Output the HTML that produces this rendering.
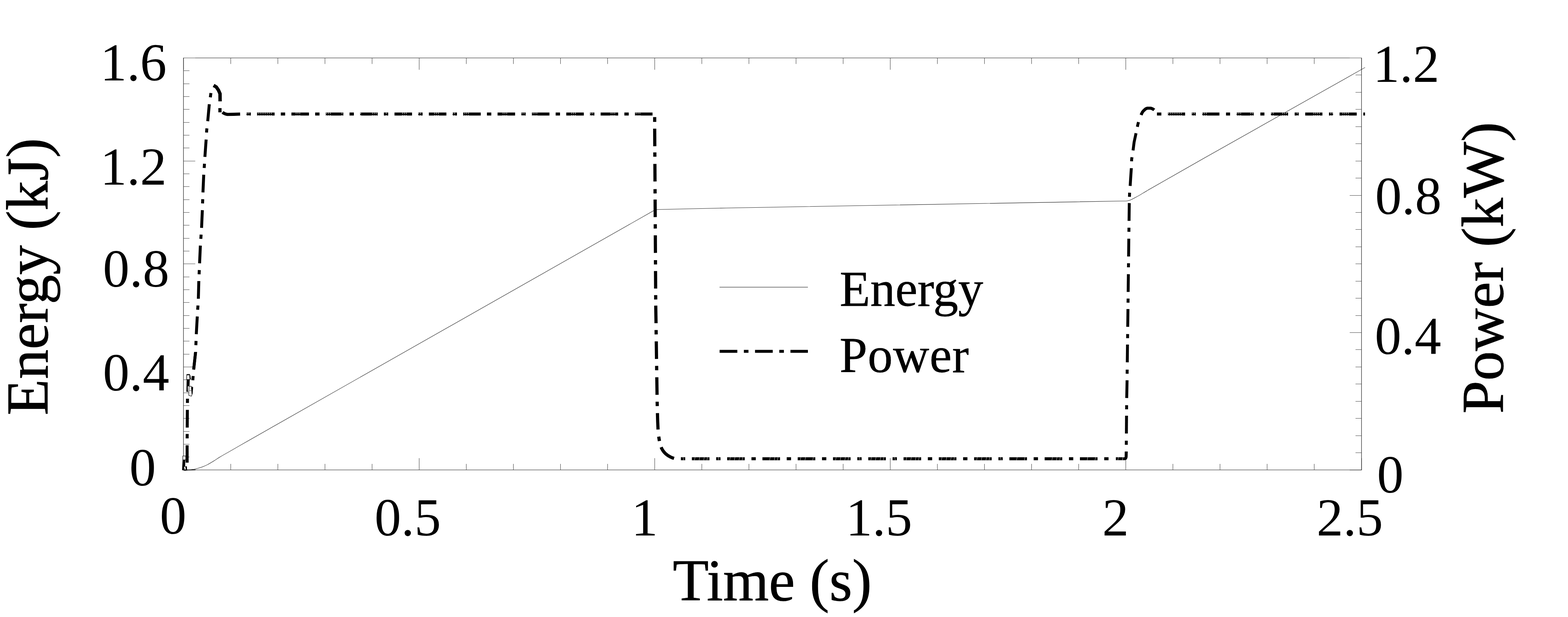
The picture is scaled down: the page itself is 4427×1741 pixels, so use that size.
<!DOCTYPE html>
<html><head><meta charset="utf-8"><title>Energy and Power vs Time</title>
<style>html,body{margin:0;padding:0;background:#fff;}svg{display:block;}text{font-family:"Liberation Serif",serif;fill:#000;}</style>
</head><body>
<svg width="4427" height="1741" viewBox="0 0 4427 1741">
<rect x="0" y="0" width="4427" height="1741" fill="#fff"/>
<g stroke="#000" stroke-width="1.2" fill="none">
<line x1="518.0" y1="163.0" x2="518.0" y2="1326.6"/>
<line x1="3844.0" y1="163.0" x2="3844.0" y2="1326.6"/>
<line x1="517.4" y1="1326.0" x2="3844.6" y2="1326.0"/>
</g>
<line x1="517.4" y1="163.5" x2="3844.6" y2="163.5" stroke="#000" stroke-width="1.1"/>
<path d="M518.0 1326.50h33.3M518.0 1289.50h16.9M518.0 1253.50h16.9M518.0 1217.50h16.9M518.0 1180.50h16.9M518.0 1144.50h16.9M518.0 1108.50h16.9M518.0 1071.50h16.9M518.0 1035.50h33.3M518.0 999.50h16.9M518.0 962.50h16.9M518.0 926.50h16.9M518.0 890.50h16.9M518.0 853.50h16.9M518.0 817.50h16.9M518.0 781.50h16.9M518.0 744.50h33.3M518.0 708.50h16.9M518.0 672.50h16.9M518.0 635.50h16.9M518.0 599.50h16.9M518.0 563.50h16.9M518.0 526.50h16.9M518.0 490.50h16.9M518.0 454.50h33.3M518.0 417.50h16.9M518.0 381.50h16.9M518.0 345.50h16.9M518.0 308.50h16.9M518.0 272.50h16.9M518.0 236.50h16.9M518.0 199.50h16.9M518.0 163.50h33.3M3844.0 1326.50h-33.3M3844.0 1277.50h-16.9M3844.0 1229.50h-16.9M3844.0 1180.50h-16.9M3844.0 1132.50h-16.9M3844.0 1083.50h-16.9M3844.0 1035.50h-16.9M3844.0 986.50h-16.9M3844.0 938.50h-33.3M3844.0 890.50h-16.9M3844.0 841.50h-16.9M3844.0 793.50h-16.9M3844.0 744.50h-16.9M3844.0 696.50h-16.9M3844.0 647.50h-16.9M3844.0 599.50h-16.9M3844.0 551.50h-33.3M3844.0 502.50h-16.9M3844.0 454.50h-16.9M3844.0 405.50h-16.9M3844.0 357.50h-16.9M3844.0 308.50h-16.9M3844.0 260.50h-16.9M3844.0 211.50h-16.9M3844.0 163.50h-33.3M518.50 1326.0v-33.3M518.50 163.5v33.3M651.50 1326.0v-16.9M651.50 163.5v16.9M784.50 1326.0v-16.9M784.50 163.5v16.9M917.50 1326.0v-16.9M917.50 163.5v16.9M1050.50 1326.0v-16.9M1050.50 163.5v16.9M1183.50 1326.0v-33.3M1183.50 163.5v33.3M1316.50 1326.0v-16.9M1316.50 163.5v16.9M1449.50 1326.0v-16.9M1449.50 163.5v16.9M1582.50 1326.0v-16.9M1582.50 163.5v16.9M1715.50 1326.0v-16.9M1715.50 163.5v16.9M1848.50 1326.0v-33.3M1848.50 163.5v33.3M1981.50 1326.0v-16.9M1981.50 163.5v16.9M2114.50 1326.0v-16.9M2114.50 163.5v16.9M2247.50 1326.0v-16.9M2247.50 163.5v16.9M2380.50 1326.0v-16.9M2380.50 163.5v16.9M2513.50 1326.0v-33.3M2513.50 163.5v33.3M2646.50 1326.0v-16.9M2646.50 163.5v16.9M2779.50 1326.0v-16.9M2779.50 163.5v16.9M2912.50 1326.0v-16.9M2912.50 163.5v16.9M3045.50 1326.0v-16.9M3045.50 163.5v16.9M3178.50 1326.0v-33.3M3178.50 163.5v33.3M3311.50 1326.0v-16.9M3311.50 163.5v16.9M3444.50 1326.0v-16.9M3444.50 163.5v16.9M3577.50 1326.0v-16.9M3577.50 163.5v16.9M3710.50 1326.0v-16.9M3710.50 163.5v16.9M3844.50 1326.0v-33.3M3844.50 163.5v33.3" stroke="#333" stroke-width="1.1" fill="none"/>
<path d="M518 1325.7C521.67 1325.58 534.50 1325.38 540.00 1325.00C545.50 1324.62 547.33 1324.13 551.00 1323.40C554.67 1322.67 558.30 1321.72 562.00 1320.60C565.70 1319.48 569.23 1318.28 573.20 1316.70C577.17 1315.12 580.53 1313.88 585.80 1311.10C591.07 1308.32 599.00 1303.55 604.80 1300.00C610.60 1296.45 612.70 1294.53 620.60 1289.80C628.50 1285.07 638.97 1279.20 652.20 1271.60C665.43 1264.00 692.03 1248.77 700.00 1244.20L780 1198.7L1844 595.3L1849.5 592.4L1856 591.2L2050 587.0L3150 567.6L3170 567.3C3172.00 567.23 3178.82 567.23 3182.00 566.90C3185.18 566.57 3186.77 566.08 3189.10 565.30C3191.43 564.52 3193.70 563.30 3196.00 562.20C3198.30 561.10 3199.43 560.55 3202.90 558.70C3206.37 556.85 3211.03 554.43 3216.80 551.10C3222.57 547.77 3230.30 542.93 3237.50 538.70C3244.70 534.47 3232.92 541.15 3260.00 525.70C3287.08 510.25 3376.67 459.28 3400.00 446.00L3854 190.4" stroke="#111" stroke-width="1.05" fill="none" stroke-linejoin="round"/>
<g stroke="#000" fill="none" stroke-linecap="butt" stroke-linejoin="round">
<polygon points="515.6,1297.6 523.2,1297.6 522.8,1316 527.4,1315.6 528.4,1324.8 529,1327.6 522,1328.6 514,1326.2" fill="#000" stroke="none"/>
<rect x="516.2" y="1286.6" width="8.2" height="11.2" fill="#f4f4f4" stroke="#000" stroke-width="1.4"/>
<polygon points="519.8,1317.2 523.2,1316.8 524.4,1324.4 521.2,1324.9" fill="#fff" stroke="none"/>
<path d="M520 1326.3 L552 1325.9" stroke="#1a1a1a" stroke-width="2.3"/>
<path d="M528.3 1256.5 L528.4 1305.6" stroke-width="8.4"/>
<path d="M528.5 1224.5 L528.4 1237.0" stroke-width="8.4"/>
<path d="M529.0 1156.5 L528.6 1206.5" stroke-width="8.4"/>
<path d="M529.3 1125.0 L529.2 1137.0" stroke-width="8.4"/>
<polygon points="527.4,1056.4 535.4,1056.2 535.9,1071 527,1071" fill="#fff" stroke="#000" stroke-width="1.5"/>
<path d="M527.4 1057.4 L535.4 1057.2" stroke-width="2.6"/>
<path d="M536.2 1058.5 L538.2 1070.8" stroke-width="2.0"/>
<polygon points="527,1071 535.7,1071 535,1090 530.2,1090 530.4,1103 532,1105.6 526.3,1105.8" fill="#000" stroke="none"/>
<polygon points="533.8,1091 538.6,1089.6 544.6,1093 543,1111 540.3,1118 533,1115.6" fill="#fff" stroke="#000" stroke-width="1.3"/>
<polygon points="539.4,1092 544.8,1093.2 543.2,1110.5 541.2,1113 540.4,1102" fill="#000" stroke="none"/>
<path d="M535 1102 L540 1102" stroke-width="0.9"/>
<path d="M545.3 1061.0 L544.8 1067.0 L544.4 1073.0" stroke-width="8.3"/>
<path d="M552.2 993.5 L547.0 1041.0 L547.0 1041.5" stroke-width="8.3"/>
<path d="M575.2 493.0 L573.0 543.0" stroke-width="8.3"/>
<path d="M571.3 593.0 L569.1 643.0" stroke-width="8.3"/>
<path d="M565.7 693.0 L563.5 743.0" stroke-width="8.3"/>
<path d="M561.3 793.0 L560.0 843.0" stroke-width="8.3"/>
<path d="M557.0 893.0 L554.3 941.0 L554.2 943.0" stroke-width="8.3"/>
<path d="M552.2 993.0 L552.2 993.5 L547.0 1041.0 L546.8 1043.0" stroke-width="8.3"/>
<path d="M572.4 562.0 L571.9 574.0" stroke-width="8.3"/>
<path d="M567.8 662.0 L567.0 674.0" stroke-width="8.3"/>
<path d="M562.7 762.0 L562.1 774.0" stroke-width="8.3"/>
<path d="M558.9 862.0 L558.1 874.0" stroke-width="8.3"/>
<path d="M553.5 962.0 L553.0 974.0" stroke-width="8.3"/>
<path d="M577.3 462.0 L577.0 467.0 L576.5 474.0" stroke-width="8.3"/>
<path d="M582.0 393.8 L578.5 442.7" stroke-width="8.3"/>
<path d="M584.2 362.2 L583.5 368.0 L583.2 374.0" stroke-width="8.3"/>
<path d="M590.9 294.1 L586.5 342.0" stroke-width="8.3"/>
<path d="M595.5 262.5 L593.8 274.6" stroke-width="8.3"/>
<path d="M603.0 241.0 L610.5 245.3 L616.8 254.5 L621.2 264.5 L621.4 286" stroke-width="9.6"/>
<path d="M621.0 305.0 L621.0 317.0" stroke-width="9.0"/>
<path d="M628.0 317.0 Q634 321.5 642 322.9 L660 322.5 L678 321.9" stroke-width="8.8"/>
<path d="M725.8 321.7 L775.3 321.7" stroke-width="8.5"/>
<path d="M695.8 321.7 L708.1 321.7" stroke-width="8.5"/>
<path d="M822.8 321.7 L872.3 321.7" stroke-width="8.5"/>
<path d="M792.8 321.7 L805.1 321.7" stroke-width="8.5"/>
<path d="M919.8 321.7 L969.3 321.7" stroke-width="8.5"/>
<path d="M889.8 321.7 L902.1 321.7" stroke-width="8.5"/>
<path d="M1016.8 321.7 L1066.3 321.7" stroke-width="8.5"/>
<path d="M986.8 321.7 L999.1 321.7" stroke-width="8.5"/>
<path d="M1113.8 321.7 L1163.3 321.7" stroke-width="8.5"/>
<path d="M1083.8 321.7 L1096.1 321.7" stroke-width="8.5"/>
<path d="M1210.8 321.7 L1260.3 321.7" stroke-width="8.5"/>
<path d="M1180.8 321.7 L1193.1 321.7" stroke-width="8.5"/>
<path d="M1307.8 321.7 L1357.3 321.7" stroke-width="8.5"/>
<path d="M1277.8 321.7 L1290.1 321.7" stroke-width="8.5"/>
<path d="M1404.8 321.7 L1454.3 321.7" stroke-width="8.5"/>
<path d="M1374.8 321.7 L1387.1 321.7" stroke-width="8.5"/>
<path d="M1501.8 321.7 L1551.3 321.7" stroke-width="8.5"/>
<path d="M1471.8 321.7 L1484.1 321.7" stroke-width="8.5"/>
<path d="M1598.8 321.7 L1648.3 321.7" stroke-width="8.5"/>
<path d="M1568.8 321.7 L1581.1 321.7" stroke-width="8.5"/>
<path d="M1695.8 321.7 L1745.3 321.7" stroke-width="8.5"/>
<path d="M1665.8 321.7 L1678.1 321.7" stroke-width="8.5"/>
<path d="M1792.8 321.7 L1842.3 321.7" stroke-width="8.5"/>
<path d="M1762.8 321.7 L1775.1 321.7" stroke-width="8.5"/>
<path d="M1848.4 330.4 L1848.4 344.0" stroke-width="9.0"/>
<path d="M1848.4 363.0 L1848.7 412.6" stroke-width="9.0"/>
<path d="M1849.0 462.5 L1849.3 512.1" stroke-width="9.0"/>
<path d="M1849.6 563.0 L1849.9 612.6" stroke-width="9.0"/>
<path d="M1850.2 664.0 L1850.5 713.6" stroke-width="9.0"/>
<path d="M1850.8 764.7 L1851.1 814.3" stroke-width="9.0"/>
<path d="M1851.4 862.4 L1852.2 912.0" stroke-width="9.0"/>
<path d="M1852.9 963.3 L1853.6 1012.9" stroke-width="9.0"/>
<path d="M1854.4 1064.5 L1855.1 1114.1" stroke-width="9.0"/>
<path d="M1848.8 430.0 L1848.9 442.3" stroke-width="9.0"/>
<path d="M1849.4 533.6 L1849.5 545.9" stroke-width="9.0"/>
<path d="M1850.0 632.6 L1850.1 644.9" stroke-width="9.0"/>
<path d="M1850.6 734.0 L1850.7 746.3" stroke-width="9.0"/>
<path d="M1851.2 832.8 L1851.3 845.1" stroke-width="9.0"/>
<path d="M1852.4 931.3 L1852.6 943.6" stroke-width="9.0"/>
<path d="M1853.9 1032.4 L1854.1 1044.7" stroke-width="9.0"/>
<path d="M1855.4 1133.5 L1855.4 1136.0 L1855.7 1145.8" stroke-width="9.0"/>
<path d="M1856.2 1165.6 L1856.9 1190.0 L1857.9 1212.0" stroke-width="9.0"/>
<path d="M1859.8 1232.0 L1861.8 1244.5" stroke-width="9.2"/>
<path d="M1866.6 1261.8 Q1875.5 1284.5 1903 1293.6" stroke-width="9.0"/>
<path d="M1953.4 1294.4 L2003.1 1294.4" stroke-width="8.5"/>
<path d="M1922.4 1294.4 L1934.6 1294.4" stroke-width="8.5"/>
<path d="M2053.0 1294.4 L2102.7 1294.4" stroke-width="8.5"/>
<path d="M2022.0 1294.4 L2034.2 1294.4" stroke-width="8.5"/>
<path d="M2152.6 1294.4 L2202.3 1294.4" stroke-width="8.5"/>
<path d="M2121.6 1294.4 L2133.8 1294.4" stroke-width="8.5"/>
<path d="M2252.2 1294.4 L2301.9 1294.4" stroke-width="8.5"/>
<path d="M2221.2 1294.4 L2233.4 1294.4" stroke-width="8.5"/>
<path d="M2351.8 1294.4 L2401.5 1294.4" stroke-width="8.5"/>
<path d="M2320.8 1294.4 L2333.0 1294.4" stroke-width="8.5"/>
<path d="M2451.4 1294.4 L2501.1 1294.4" stroke-width="8.5"/>
<path d="M2420.4 1294.4 L2432.6 1294.4" stroke-width="8.5"/>
<path d="M2551.0 1294.4 L2600.7 1294.4" stroke-width="8.5"/>
<path d="M2520.0 1294.4 L2532.2 1294.4" stroke-width="8.5"/>
<path d="M2650.6 1294.4 L2700.3 1294.4" stroke-width="8.5"/>
<path d="M2619.6 1294.4 L2631.8 1294.4" stroke-width="8.5"/>
<path d="M2750.2 1294.4 L2799.9 1294.4" stroke-width="8.5"/>
<path d="M2719.2 1294.4 L2731.4 1294.4" stroke-width="8.5"/>
<path d="M2849.8 1294.4 L2899.5 1294.4" stroke-width="8.5"/>
<path d="M2818.8 1294.4 L2831.0 1294.4" stroke-width="8.5"/>
<path d="M2949.4 1294.4 L2999.1 1294.4" stroke-width="8.5"/>
<path d="M2918.4 1294.4 L2930.6 1294.4" stroke-width="8.5"/>
<path d="M3049.0 1294.4 L3098.7 1294.4" stroke-width="8.5"/>
<path d="M3018.0 1294.4 L3030.2 1294.4" stroke-width="8.5"/>
<path d="M3117.6 1294.4 L3129.8 1294.4" stroke-width="8.5"/>
<path d="M3150.5 1294.4 L3175 1294.4 Q3179.4 1294.2 3179.5 1288 L3179.8 1274" stroke-width="8.4"/>
<path d="M3180.6 1173.0 L3180.2 1223.2" stroke-width="8.2"/>
<path d="M3182.1 1072.9 L3182.1 1073.8 L3181.1 1123.1" stroke-width="8.2"/>
<path d="M3183.3 972.2 L3182.7 1022.4" stroke-width="8.2"/>
<path d="M3184.6 872.0 L3184.0 922.2" stroke-width="8.2"/>
<path d="M3185.8 773.6 L3185.2 823.8" stroke-width="8.2"/>
<path d="M3187.0 673.5 L3186.7 700.0 L3186.4 723.7" stroke-width="8.2"/>
<path d="M3188.4 573.0 L3188.3 575.0 L3187.7 623.2" stroke-width="8.2"/>
<path d="M3194.1 474.4 L3194.1 474.7 L3190.9 523.3 L3190.8 524.6" stroke-width="8.2"/>
<path d="M3180.0 1243.5 L3179.9 1255.1" stroke-width="8.2"/>
<path d="M3180.9 1143.4 L3180.8 1155.0" stroke-width="8.2"/>
<path d="M3182.4 1043.0 L3182.3 1054.6" stroke-width="8.2"/>
<path d="M3183.7 942.6 L3183.6 954.2" stroke-width="8.2"/>
<path d="M3185.0 842.5 L3184.8 854.1" stroke-width="8.2"/>
<path d="M3186.2 742.7 L3186.0 754.3" stroke-width="8.2"/>
<path d="M3187.4 642.5 L3187.3 654.1" stroke-width="8.2"/>
<path d="M3189.3 543.7 L3189.2 545.0 L3188.9 555.3" stroke-width="8.2"/>
<path d="M3196.0 443.6 L3195.1 449.0 L3194.9 455.2" stroke-width="8.2"/>
<path d="M3207.4 375.9 L3202.0 401.0 L3199.0 424.6" stroke-width="8.2"/>
<path d="M3214.3 344.5 L3212.6 351.0 L3211.2 357.9" stroke-width="8.2"/>
<path d="M3221.7 324.6 Q3225.5 314.5 3230.4 311 Q3234 306.6 3239 305.3 L3248.9 305.3 Q3254 306.4 3258.8 310.2" stroke-width="8.6"/>
<path d="M3266.5 321.7 L3278.9 321.7" stroke-width="8.5"/>
<path d="M3297.5 321.7 L3346.0 321.7" stroke-width="8.5"/>
<path d="M3364.6 321.7 L3376.1 321.7" stroke-width="8.5"/>
<path d="M3394.4 321.7 L3442.9 321.7" stroke-width="8.5"/>
<path d="M3461.5 321.7 L3473.0 321.7" stroke-width="8.5"/>
<path d="M3491.3 321.7 L3539.8 321.7" stroke-width="8.5"/>
<path d="M3558.4 321.7 L3569.9 321.7" stroke-width="8.5"/>
<path d="M3588.2 321.7 L3636.7 321.7" stroke-width="8.5"/>
<path d="M3655.3 321.7 L3666.8 321.7" stroke-width="8.5"/>
<path d="M3685.1 321.7 L3733.6 321.7" stroke-width="8.5"/>
<path d="M3752.2 321.7 L3763.7 321.7" stroke-width="8.5"/>
<path d="M3782.0 321.7 L3830.5 321.7" stroke-width="8.5"/>
<path d="M3849.1 321.7 L3854.0 321.7" stroke-width="8.5"/>
</g>
<path d="M697.5 318.0l1.5 1.6l-1.5 1.6l-1.5 -1.6zM696.3 324.3h2.2v1.1h-2.2zM702.7 318.0l1.5 1.6l-1.5 1.6l-1.5 -1.6zM701.5 324.3h2.2v1.1h-2.2zM729.5 318.0l1.5 1.6l-1.5 1.6l-1.5 -1.6zM728.3 324.3h2.2v1.1h-2.2zM734.7 318.0l1.5 1.6l-1.5 1.6l-1.5 -1.6zM733.5 324.3h2.2v1.1h-2.2zM739.9 318.0l1.5 1.6l-1.5 1.6l-1.5 -1.6zM738.7 324.3h2.2v1.1h-2.2zM745.1 318.0l1.5 1.6l-1.5 1.6l-1.5 -1.6zM743.9 324.3h2.2v1.1h-2.2zM750.3 318.0l1.5 1.6l-1.5 1.6l-1.5 -1.6zM749.1 324.3h2.2v1.1h-2.2zM755.5 318.0l1.5 1.6l-1.5 1.6l-1.5 -1.6zM754.3 324.3h2.2v1.1h-2.2zM760.7 318.0l1.5 1.6l-1.5 1.6l-1.5 -1.6zM759.5 324.3h2.2v1.1h-2.2zM765.9 318.0l1.5 1.6l-1.5 1.6l-1.5 -1.6zM764.7 324.3h2.2v1.1h-2.2zM836.0 318.0l1.5 1.6l-1.5 1.6l-1.5 -1.6zM834.8 324.3h2.2v1.1h-2.2zM841.2 318.0l1.5 1.6l-1.5 1.6l-1.5 -1.6zM840.0 324.3h2.2v1.1h-2.2zM846.4 318.0l1.5 1.6l-1.5 1.6l-1.5 -1.6zM845.2 324.3h2.2v1.1h-2.2zM922.3 318.0l1.5 1.6l-1.5 1.6l-1.5 -1.6zM921.1 324.3h2.2v1.1h-2.2zM927.5 318.0l1.5 1.6l-1.5 1.6l-1.5 -1.6zM926.3 324.3h2.2v1.1h-2.2zM932.7 318.0l1.5 1.6l-1.5 1.6l-1.5 -1.6zM931.5 324.3h2.2v1.1h-2.2zM965.5 318.0l1.5 1.6l-1.5 1.6l-1.5 -1.6zM964.3 324.3h2.2v1.1h-2.2zM1018.5 318.0l1.5 1.6l-1.5 1.6l-1.5 -1.6zM1017.3 324.3h2.2v1.1h-2.2zM1051.5 318.0l1.5 1.6l-1.5 1.6l-1.5 -1.6zM1050.3 324.3h2.2v1.1h-2.2zM1056.7 318.0l1.5 1.6l-1.5 1.6l-1.5 -1.6zM1055.5 324.3h2.2v1.1h-2.2zM1061.9 318.0l1.5 1.6l-1.5 1.6l-1.5 -1.6zM1060.7 324.3h2.2v1.1h-2.2zM1090.5 318.0l1.5 1.6l-1.5 1.6l-1.5 -1.6zM1089.3 324.3h2.2v1.1h-2.2zM1136.5 318.0l1.5 1.6l-1.5 1.6l-1.5 -1.6zM1135.3 324.3h2.2v1.1h-2.2zM1141.7 318.0l1.5 1.6l-1.5 1.6l-1.5 -1.6zM1140.5 324.3h2.2v1.1h-2.2zM1146.9 318.0l1.5 1.6l-1.5 1.6l-1.5 -1.6zM1145.7 324.3h2.2v1.1h-2.2zM1181.5 318.0l1.5 1.6l-1.5 1.6l-1.5 -1.6zM1180.3 324.3h2.2v1.1h-2.2zM1186.7 318.0l1.5 1.6l-1.5 1.6l-1.5 -1.6zM1185.5 324.3h2.2v1.1h-2.2zM1227.5 318.0l1.5 1.6l-1.5 1.6l-1.5 -1.6zM1226.3 324.3h2.2v1.1h-2.2zM1232.7 318.0l1.5 1.6l-1.5 1.6l-1.5 -1.6zM1231.5 324.3h2.2v1.1h-2.2zM1237.9 318.0l1.5 1.6l-1.5 1.6l-1.5 -1.6zM1236.7 324.3h2.2v1.1h-2.2zM1278.5 318.0l1.5 1.6l-1.5 1.6l-1.5 -1.6zM1277.3 324.3h2.2v1.1h-2.2zM1283.7 318.0l1.5 1.6l-1.5 1.6l-1.5 -1.6zM1282.5 324.3h2.2v1.1h-2.2zM1312.5 318.0l1.5 1.6l-1.5 1.6l-1.5 -1.6zM1311.3 324.3h2.2v1.1h-2.2zM1317.7 318.0l1.5 1.6l-1.5 1.6l-1.5 -1.6zM1316.5 324.3h2.2v1.1h-2.2zM1322.9 318.0l1.5 1.6l-1.5 1.6l-1.5 -1.6zM1321.7 324.3h2.2v1.1h-2.2zM1420.3 318.0l1.5 1.6l-1.5 1.6l-1.5 -1.6zM1419.1 324.3h2.2v1.1h-2.2zM1425.5 318.0l1.5 1.6l-1.5 1.6l-1.5 -1.6zM1424.3 324.3h2.2v1.1h-2.2zM1430.7 318.0l1.5 1.6l-1.5 1.6l-1.5 -1.6zM1429.5 324.3h2.2v1.1h-2.2zM1505.3 318.0l1.5 1.6l-1.5 1.6l-1.5 -1.6zM1504.1 324.3h2.2v1.1h-2.2zM1510.5 318.0l1.5 1.6l-1.5 1.6l-1.5 -1.6zM1509.3 324.3h2.2v1.1h-2.2zM1515.7 318.0l1.5 1.6l-1.5 1.6l-1.5 -1.6zM1514.5 324.3h2.2v1.1h-2.2zM1474.3 318.0l1.5 1.6l-1.5 1.6l-1.5 -1.6zM1473.1 324.3h2.2v1.1h-2.2zM1479.5 318.0l1.5 1.6l-1.5 1.6l-1.5 -1.6zM1478.3 324.3h2.2v1.1h-2.2zM1614.3 318.0l1.5 1.6l-1.5 1.6l-1.5 -1.6zM1613.1 324.3h2.2v1.1h-2.2zM1619.5 318.0l1.5 1.6l-1.5 1.6l-1.5 -1.6zM1618.3 324.3h2.2v1.1h-2.2zM1624.7 318.0l1.5 1.6l-1.5 1.6l-1.5 -1.6zM1623.5 324.3h2.2v1.1h-2.2zM1725.3 318.0l1.5 1.6l-1.5 1.6l-1.5 -1.6zM1724.1 324.3h2.2v1.1h-2.2zM1730.5 318.0l1.5 1.6l-1.5 1.6l-1.5 -1.6zM1729.3 324.3h2.2v1.1h-2.2zM1735.7 318.0l1.5 1.6l-1.5 1.6l-1.5 -1.6zM1734.5 324.3h2.2v1.1h-2.2zM1668.3 318.0l1.5 1.6l-1.5 1.6l-1.5 -1.6zM1667.1 324.3h2.2v1.1h-2.2zM1673.5 318.0l1.5 1.6l-1.5 1.6l-1.5 -1.6zM1672.3 324.3h2.2v1.1h-2.2zM1796.3 318.0l1.5 1.6l-1.5 1.6l-1.5 -1.6zM1795.1 324.3h2.2v1.1h-2.2zM1801.5 318.0l1.5 1.6l-1.5 1.6l-1.5 -1.6zM1800.3 324.3h2.2v1.1h-2.2zM1806.7 318.0l1.5 1.6l-1.5 1.6l-1.5 -1.6zM1805.5 324.3h2.2v1.1h-2.2zM3299.5 318.0l1.5 1.6l-1.5 1.6l-1.5 -1.6zM3298.3 324.3h2.2v1.1h-2.2zM3304.7 318.0l1.5 1.6l-1.5 1.6l-1.5 -1.6zM3303.5 324.3h2.2v1.1h-2.2zM3309.9 318.0l1.5 1.6l-1.5 1.6l-1.5 -1.6zM3308.7 324.3h2.2v1.1h-2.2zM3315.1 318.0l1.5 1.6l-1.5 1.6l-1.5 -1.6zM3313.9 324.3h2.2v1.1h-2.2zM3320.3 318.0l1.5 1.6l-1.5 1.6l-1.5 -1.6zM3319.1 324.3h2.2v1.1h-2.2zM3325.5 318.0l1.5 1.6l-1.5 1.6l-1.5 -1.6zM3324.3 324.3h2.2v1.1h-2.2zM3330.7 318.0l1.5 1.6l-1.5 1.6l-1.5 -1.6zM3329.5 324.3h2.2v1.1h-2.2zM3335.9 318.0l1.5 1.6l-1.5 1.6l-1.5 -1.6zM3334.7 324.3h2.2v1.1h-2.2zM3366.5 318.0l1.5 1.6l-1.5 1.6l-1.5 -1.6zM3365.3 324.3h2.2v1.1h-2.2zM3371.7 318.0l1.5 1.6l-1.5 1.6l-1.5 -1.6zM3370.5 324.3h2.2v1.1h-2.2zM3395.9 318.0l1.5 1.6l-1.5 1.6l-1.5 -1.6zM3394.7 324.3h2.2v1.1h-2.2zM3401.1 318.0l1.5 1.6l-1.5 1.6l-1.5 -1.6zM3399.9 324.3h2.2v1.1h-2.2zM3406.3 318.0l1.5 1.6l-1.5 1.6l-1.5 -1.6zM3405.1 324.3h2.2v1.1h-2.2zM3492.5 318.0l1.5 1.6l-1.5 1.6l-1.5 -1.6zM3491.3 324.3h2.2v1.1h-2.2zM3497.7 318.0l1.5 1.6l-1.5 1.6l-1.5 -1.6zM3496.5 324.3h2.2v1.1h-2.2zM3502.9 318.0l1.5 1.6l-1.5 1.6l-1.5 -1.6zM3501.7 324.3h2.2v1.1h-2.2zM3531.5 318.0l1.5 1.6l-1.5 1.6l-1.5 -1.6zM3530.3 324.3h2.2v1.1h-2.2zM3536.7 318.0l1.5 1.6l-1.5 1.6l-1.5 -1.6zM3535.5 324.3h2.2v1.1h-2.2zM3589.5 318.0l1.5 1.6l-1.5 1.6l-1.5 -1.6zM3588.3 324.3h2.2v1.1h-2.2zM3594.7 318.0l1.5 1.6l-1.5 1.6l-1.5 -1.6zM3593.5 324.3h2.2v1.1h-2.2zM3621.5 318.0l1.5 1.6l-1.5 1.6l-1.5 -1.6zM3620.3 324.3h2.2v1.1h-2.2zM3626.7 318.0l1.5 1.6l-1.5 1.6l-1.5 -1.6zM3625.5 324.3h2.2v1.1h-2.2zM3631.9 318.0l1.5 1.6l-1.5 1.6l-1.5 -1.6zM3630.7 324.3h2.2v1.1h-2.2zM3662.5 318.0l1.5 1.6l-1.5 1.6l-1.5 -1.6zM3661.3 324.3h2.2v1.1h-2.2zM3667.7 318.0l1.5 1.6l-1.5 1.6l-1.5 -1.6zM3666.5 324.3h2.2v1.1h-2.2zM3709.5 318.0l1.5 1.6l-1.5 1.6l-1.5 -1.6zM3708.3 324.3h2.2v1.1h-2.2zM3714.7 318.0l1.5 1.6l-1.5 1.6l-1.5 -1.6zM3713.5 324.3h2.2v1.1h-2.2zM3719.9 318.0l1.5 1.6l-1.5 1.6l-1.5 -1.6zM3718.7 324.3h2.2v1.1h-2.2zM3725.1 318.0l1.5 1.6l-1.5 1.6l-1.5 -1.6zM3723.9 324.3h2.2v1.1h-2.2zM3757.5 318.0l1.5 1.6l-1.5 1.6l-1.5 -1.6zM3756.3 324.3h2.2v1.1h-2.2zM3762.7 318.0l1.5 1.6l-1.5 1.6l-1.5 -1.6zM3761.5 324.3h2.2v1.1h-2.2zM3791.5 318.0l1.5 1.6l-1.5 1.6l-1.5 -1.6zM3790.3 324.3h2.2v1.1h-2.2zM3796.7 318.0l1.5 1.6l-1.5 1.6l-1.5 -1.6zM3795.5 324.3h2.2v1.1h-2.2zM3801.9 318.0l1.5 1.6l-1.5 1.6l-1.5 -1.6zM3800.7 324.3h2.2v1.1h-2.2zM3807.1 318.0l1.5 1.6l-1.5 1.6l-1.5 -1.6zM3805.9 324.3h2.2v1.1h-2.2z" fill="#fff" stroke="none"/>
<path d="M1962.4 1290.2l-1.6 8.4M1975.4 1290.2l-1.6 8.4M1988.4 1290.2l-1.6 8.4M1997.4 1290.2l-1.6 8.4M1928.4 1290.2l1.8 8.4M2062.0 1290.2l-1.6 8.4M2075.0 1290.2l-1.6 8.4M2088.0 1290.2l-1.6 8.4M2097.0 1290.2l-1.6 8.4M2028.0 1290.2l1.8 8.4M2174.6 1290.2l-1.6 8.4M2187.6 1290.2l-1.6 8.4M2196.6 1290.2l-1.6 8.4M2261.2 1290.2l-1.6 8.4M2274.2 1290.2l-1.6 8.4M2296.2 1290.2l-1.6 8.4M2360.8 1290.2l-1.6 8.4M2373.8 1290.2l-1.6 8.4M2386.8 1290.2l-1.6 8.4M2395.8 1290.2l-1.6 8.4M2460.4 1290.2l-1.6 8.4M2473.4 1290.2l-1.6 8.4M2486.4 1290.2l-1.6 8.4M2495.4 1290.2l-1.6 8.4M2426.4 1290.2l1.8 8.4M2560.0 1290.2l-1.6 8.4M2573.0 1290.2l-1.6 8.4M2586.0 1290.2l-1.6 8.4M2595.0 1290.2l-1.6 8.4M2526.0 1290.2l1.8 8.4M2659.6 1290.2l-1.6 8.4M2672.6 1290.2l-1.6 8.4M2685.6 1290.2l-1.6 8.4M2694.6 1290.2l-1.6 8.4M2759.2 1290.2l-1.6 8.4M2772.2 1290.2l-1.6 8.4M2785.2 1290.2l-1.6 8.4M2794.2 1290.2l-1.6 8.4M2871.8 1290.2l-1.6 8.4M2893.8 1290.2l-1.6 8.4M2824.8 1290.2l1.8 8.4M2971.4 1290.2l-1.6 8.4M2984.4 1290.2l-1.6 8.4M2993.4 1290.2l-1.6 8.4M3071.0 1290.2l-1.6 8.4M3093.0 1290.2l-1.6 8.4M3157.6 1290.2l-1.6 8.4M3170.6 1290.2l-1.6 8.4" stroke="#fff" stroke-width="0.9" fill="none"/>
<line x1="2031.5" y1="810.4" x2="2281" y2="810.4" stroke="#222" stroke-width="1.25"/>
<path d="M2031.7 991.4H2281" stroke="#000" stroke-width="8.4" stroke-dasharray="50 18.5 13 18.5" fill="none"/>
<text x="2370.8" y="862.7" font-size="141.2" stroke="#000" stroke-width="0.8">Energy</text>
<text x="2370.3" y="1050.4" font-size="141.2" letter-spacing="1.05" stroke="#000" stroke-width="0.8">Power</text>
<g font-size="150" fill="#000" stroke="none">
<text x="283" y="226.9">1.6</text>
<text x="283" y="520.9">1.2</text>
<text x="290.6" y="809.3">0.8</text>
<text x="290.5" y="1102">0.4</text>
<text x="365.2" y="1370.2">0</text>
<text x="451.2" y="1505.9">0</text>
<text x="1057.5" y="1511.2">0.5</text>
<text x="1782.5" y="1510.9">1</text>
<text x="2388" y="1510.9">1.5</text>
<text x="3112" y="1510.5">2</text>
<text x="3717.2" y="1510.9">2.5</text>
<text x="3876.5" y="230.9">1.2</text>
<text x="3882.5" y="604.3">0.8</text>
<text x="3881.5" y="999.3">0.4</text>
<text x="3887.8" y="1390.2">0</text>
</g>
<text transform="translate(1899.6 1694.0) scale(0.987 1)" font-size="168.4" stroke="#000" stroke-width="1.1">Time (s)</text>
<text transform="translate(133.7 1172) rotate(-90) scale(0.994 1)" font-size="168.4" stroke="#000" stroke-width="1.1">Energy (kJ)</text>
<text transform="translate(4242.8 1167.3) rotate(-90) scale(0.9945 1)" font-size="168.4" stroke="#000" stroke-width="1.1">Power (kW)</text>
</svg></body></html>
